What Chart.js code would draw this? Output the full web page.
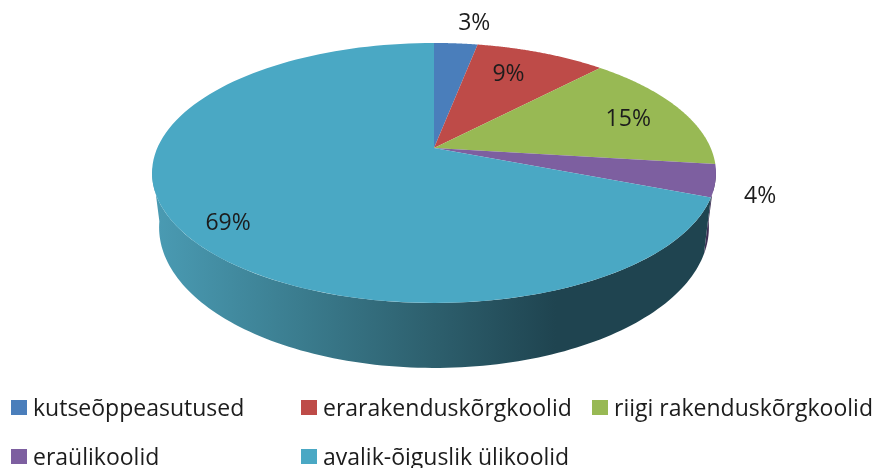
<!DOCTYPE html>
<html>
<head>
<meta charset="utf-8">
<style>
  html, body { margin: 0; padding: 0; background: #fff; }
  canvas { display: block; filter: blur(0.5px); }
</style>
<script src="https://cdn.jsdelivr.net/npm/chart.js@4/dist/chart.umd.min.js"></script>
</head>
<body>
<canvas id="pieChart" width="874" height="468"></canvas>
<script>
// Chart data
const categories = ['kutseõppeasutused', 'erarakenduskõrgkoolid', 'riigi rakenduskõrgkoolid', 'eraülikoolid', 'avalik-õiguslik ülikoolid'];
const shares = [3, 9, 15, 4, 69];
const colors = ['#4a7ebb', '#be4b48', '#98b954', '#7d5fa0', '#4aa8c4'];

// Perspective of the tilted disc
const view = { cx: 434, cy: 148, rx: 276.7, ry: 125.2, tilt: 0.192, depth: 52.5, shrink: 0.975 };
// radius fraction, then nudge in px, for each percent label
const labelPlace = [[1.19, 15, -4], [0.75, -9, 1], [0.78, 1, 3], [1.15, 0, 11], [0.82, 0, 12]];
// Legend grid
const legendCols = [11, 301, 592];
const legendRows = [400, 449];
const FONT = '"Open Sans", sans-serif';

// Project a point of the unit disc on the canvas, drop > 0 is the lower rim
function project(a, r, drop) {
  const u = Math.cos(a) * r;
  const v = Math.sin(a) * r;
  const w = 1 - view.tilt * v;
  const scale = drop ? view.shrink : 1;
  return {
    x: view.cx + scale * view.rx * u / w,
    y: view.cy + (view.ry * v + (drop || 0)) / w
  };
}

function sideGradient(ctx) {
  const g = ctx.createLinearGradient(155, 0, 712, 0);
  g.addColorStop(0, '#4a9bb3');
  g.addColorStop(0.27, '#3a7b8d');
  g.addColorStop(0.5, '#2d5f6d');
  g.addColorStop(0.72, '#1f4450');
  g.addColorStop(1, '#1f4450');
  return g;
}

const disc3d = {
  id: 'disc3d',
  // the library worked out the arc angles, we only draw them tilted
  beforeDatasetsDraw(chart) {
    const ctx = chart.ctx;
    const arcs = chart.getDatasetMeta(0).data;
    ctx.save();

    // side wall, front part only or the back part cancels it out when filling
    arcs.forEach((arc, i) => {
      const steps = 120;
      const from = Math.max(arc.startAngle, 0.15);
      const to = Math.min(arc.endAngle, Math.PI - 0.15);
      if (from >= to) return;
      ctx.beginPath();
      for (let s = 0; s <= steps; s++) {
        const p = project(from + (to - from) * s / steps, 1, view.depth);
        if (s === 0) ctx.moveTo(p.x, p.y); else ctx.lineTo(p.x, p.y);
      }
      for (let s = steps; s >= 0; s--) {
        const p = project(from + (to - from) * s / steps, 1, 0);
        ctx.lineTo(p.x, p.y);
      }
      ctx.closePath();
      ctx.fillStyle = i === 4 ? sideGradient(ctx) : '#3f2f55';
      ctx.fill();
    });

    // top face
    arcs.forEach((arc) => {
      const steps = 120;
      ctx.beginPath();
      ctx.moveTo(view.cx, view.cy);
      for (let s = 0; s <= steps; s++) {
        const a = arc.startAngle + (arc.endAngle - arc.startAngle) * s / steps;
        const p = project(a, 1, 0);
        ctx.lineTo(p.x, p.y);
      }
      ctx.closePath();
      ctx.fillStyle = arc.options.backgroundColor;
      ctx.fill();
    });

    // percent labels
    ctx.fillStyle = '#1c1c1c';
    ctx.font = '23px ' + FONT;
    ctx.textAlign = 'center';
    ctx.textBaseline = 'middle';
    arcs.forEach((arc, i) => {
      const mid = (arc.startAngle + arc.endAngle) / 2;
      const place = labelPlace[i];
      const p = project(mid, place[0], 0);
      ctx.fillText(shares[i] + '%', p.x + place[1], p.y + place[2]);
    });

    ctx.restore();
    return false;
  },
  // legend on a fixed grid, the built in one can't line up columns
  afterDraw(chart) {
    const ctx = chart.ctx;
    ctx.save();
    ctx.font = '23px ' + FONT;
    ctx.textAlign = 'left';
    ctx.textBaseline = 'middle';
    chart.data.labels.forEach((label, i) => {
      const x = legendCols[i % 3];
      const y = legendRows[Math.floor(i / 3)];
      ctx.fillStyle = colors[i];
      ctx.fillRect(x, y, 16, 15);
      ctx.fillStyle = '#1c1c1c';
      ctx.fillText(label, x + 22, y + 9);
    });
    ctx.restore();
  }
};

new Chart(document.getElementById('pieChart'), {
  type: 'pie',
  data: {
    labels: categories,
    datasets: [{ data: shares, backgroundColor: colors, borderWidth: 0 }]
  },
  options: {
    responsive: false,
    animation: false,
    plugins: {
      legend: { display: false },
      tooltip: { enabled: false }
    }
  },
  plugins: [disc3d]
});
</script>
</body>
</html>
